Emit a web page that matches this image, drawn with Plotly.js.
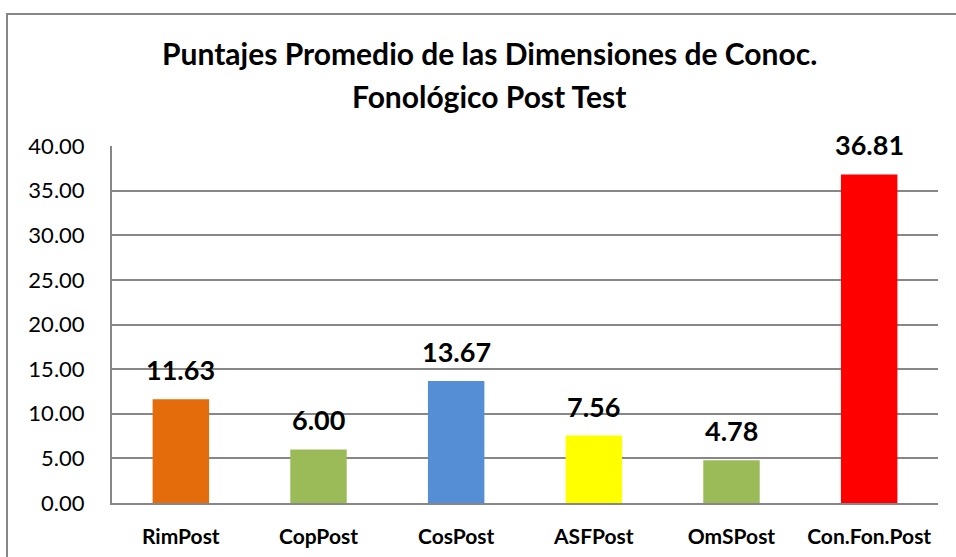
<!DOCTYPE html>
<html>
<head>
<meta charset="utf-8">
<script src="https://cdn.plot.ly/plotly-3.0.1.min.js"></script>
<style>
html,body{margin:0;padding:0;background:#fff;}
#wrap{position:relative;width:956px;height:557px;overflow:hidden;}
#chart{position:absolute;left:0;top:0;width:956px;height:557px;}
#frame{position:absolute;left:6px;top:13px;width:1000px;height:600px;border:2px solid #878787;pointer-events:none;box-sizing:border-box;}
</style>
</head>
<body>
<div id="wrap"><div id="chart"></div><div id="frame"></div></div>
<script>
const categories = ["RimPost", "CopPost", "CosPost", "ASFPost", "OmSPost", "Con.Fon.Post"];
const values = [11.63, 6.00, 13.67, 7.56, 4.78, 36.81];
const barColors = ["#E46C0A", "#9BBB59", "#558ED5", "#FFFF00", "#9BBB59", "#FF0000"];
const yTickValues = [0, 5, 10, 15, 20, 25, 30, 35, 40];
const titleLines = ["Puntajes Promedio de las Dimensiones de Conoc.", "Fonológico Post Test"];

const FONT = "Lato, 'Open Sans', sans-serif";

const trace = {
  type: "bar",
  x: categories,
  y: values,
  marker: {color: barColors},
  width: 0.41,
  hoverinfo: "x+y"
};

const annotations = categories.map((c, i) => ({
  x: c,
  y: values[i],
  xref: "x",
  yref: "y",
  text: "<b>" + values[i].toFixed(2) + "</b>",
  showarrow: false,
  yanchor: "bottom",
  yshift: 11,
  font: {family: FONT, size: 27, color: "#000"}
}));

// title lines as paper annotations (to control line spacing)
const titleY = [1 - 53 / 557, 1 - 96 / 557];
titleLines.forEach((t, i) => {
  annotations.push({
    text: "<b>" + t + "</b>",
    xref: "paper", yref: "paper",
    x: (489 - 112) / 826,
    y: (titleY[i] * 557 - 54) / (557 - 146 - 54),
    xanchor: "center", yanchor: "middle",
    showarrow: false,
    font: {family: FONT, size: 30, color: "#000"}
  });
});

const layout = {
  width: 956,
  height: 557,
  margin: {l: 112, r: 18, t: 146, b: 54},
  paper_bgcolor: "#fff",
  plot_bgcolor: "#fff",
  showlegend: false,
  bargap: 0.59,
  xaxis: {
    type: "category",
    showline: true,
    linecolor: "#878787",
    linewidth: 2,
    showgrid: false,
    ticks: "",
    ticklabelstandoff: 14,
    tickfont: {family: FONT, size: 21, color: "#000", weight: "bold"}
  },
  yaxis: {
    range: [0, 40],
    tickvals: yTickValues,
    ticktext: yTickValues.map(v => v.toFixed(2)),
    showline: true,
    linecolor: "#878787",
    linewidth: 2,
    showgrid: true,
    gridcolor: "#878787",
    gridwidth: 2,
    zeroline: false,
    ticks: "",
    ticklabelstandoff: 21,
    tickfont: {family: FONT, size: 22, color: "#000"}
  },
  annotations: annotations
};

Plotly.newPlot("chart", [trace], layout, {displayModeBar: false, staticPlot: true});
</script>
</body>
</html>
